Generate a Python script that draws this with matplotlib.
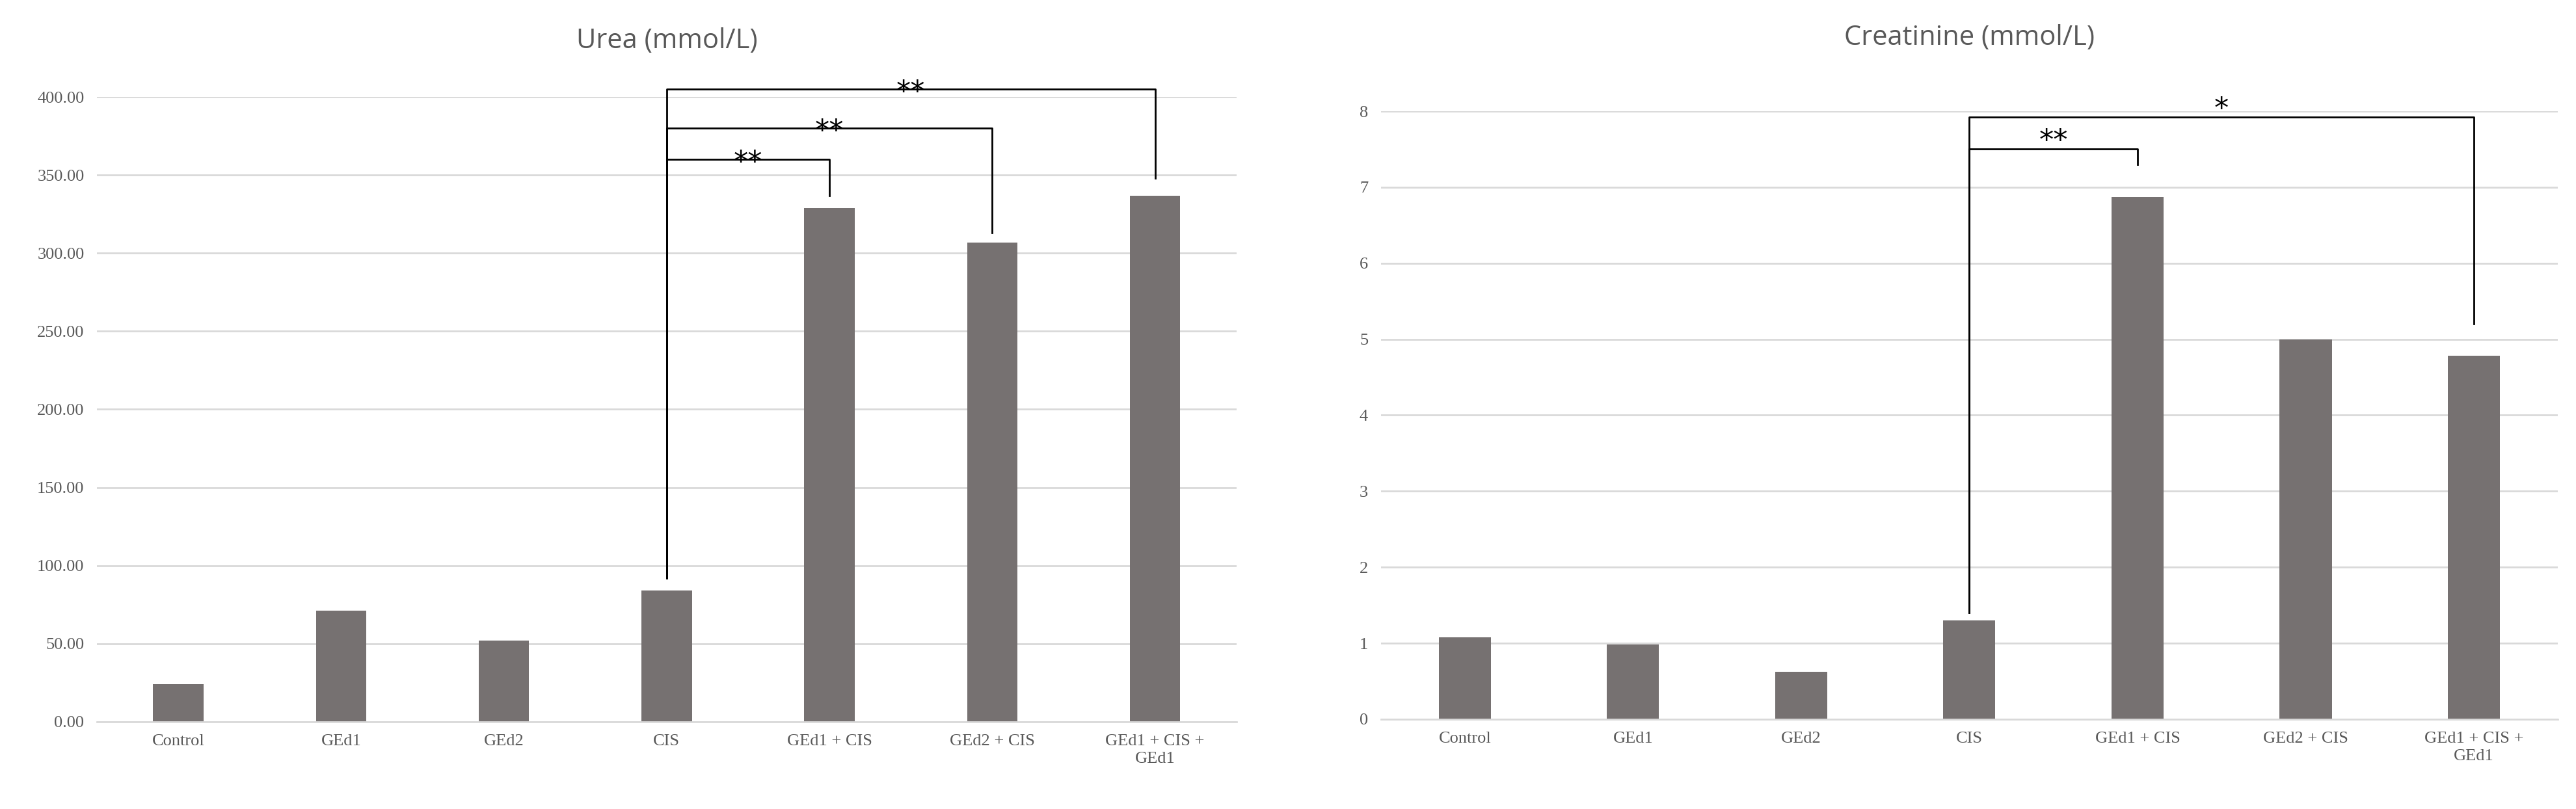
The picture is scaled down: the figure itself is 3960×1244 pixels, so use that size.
import matplotlib
matplotlib.use("Agg")
import matplotlib.pyplot as plt
from matplotlib.ticker import FormatStrFormatter

groups = ["Control", "GEd1", "GEd2", "CIS", "GEd1 + CIS", "GEd2 + CIS", "GEd1 + CIS +\nGEd1"]
urea = [24, 71, 52, 84, 329, 307, 337]
creatinine = [1.08, 0.98, 0.62, 1.30, 6.87, 5.00, 4.78]

# brackets: (from index, to index, bar height y, left leg bottom, right leg bottom, label)
urea_brackets = [(3, 4, 360, 92, 337, "**"), (3, 5, 380, 92, 313, "**"), (3, 6, 405, 92, 348, "**")]
creat_brackets = [(3, 4, 7.5, 1.4, 7.3, "**"), (3, 6, 7.92, 1.4, 5.2, "*")]

BAR = "#767171"
GRID = "#d9d9d9"

fig = plt.figure(figsize=(39.6, 12.44), dpi=100)
ax1 = fig.add_axes([0.0376, 0.108, 0.4424, 0.772])
ax2 = fig.add_axes([0.536, 0.111, 0.457, 0.7515])


def draw(ax, vals, ymax, step, fmt, title, brackets, title_y, star_off):
    x = range(len(groups))
    ax.bar(x, vals, width=0.31, color=BAR, zorder=2)
    ax.set_ylim(0, ymax)
    ax.set_xlim(-0.5, len(groups) - 0.5)
    ax.set_yticks([i * step for i in range(int(round(ymax / step)) + 1)])
    ax.yaxis.set_major_formatter(FormatStrFormatter(fmt))
    ax.grid(axis="y", color=GRID, linewidth=2, zorder=0)
    for s in ["top", "right", "left"]:
        ax.spines[s].set_visible(False)
    ax.spines["bottom"].set_color(GRID)
    ax.spines["bottom"].set_linewidth(2)
    ax.tick_params(length=0, labelsize=19, colors="#595959", pad=14)
    ax.set_xticks(list(x))
    ax.set_xticklabels(groups, linespacing=1.3)
    for lab in ax.get_xticklabels() + ax.get_yticklabels():
        lab.set_family("Liberation Serif")
    ax.set_title(title, fontsize=30, color="#595959", family="Open Sans", y=title_y)
    for a, b, h, la, lb, txt in brackets:
        ax.plot([a, a, b, b], [la, h, h, lb], color="black", linewidth=2, clip_on=False, zorder=3)
        ax.text((a + b) / 2, h + star_off, txt, ha="center", va="center", fontsize=32, clip_on=False)


draw(ax1, urea, 400, 50, "%.2f", "Urea (mmol/L)", urea_brackets, 1.07, -2)
draw(ax2, creatinine, 8, 1, "%d", "Creatinine (mmol/L)", creat_brackets, 1.1, 0.1)

fig.savefig("out.png", dpi=100, facecolor="white")
